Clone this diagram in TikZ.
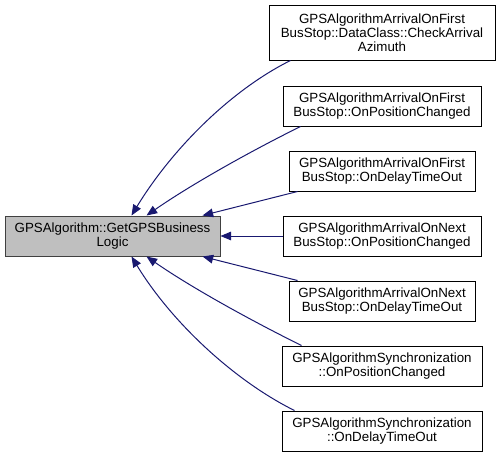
\documentclass[tikz,border=0pt]{standalone}
\usepackage{fontspec}
\setmainfont{Liberation Sans}
\usetikzlibrary{arrows.meta,calc}
\definecolor{edgeblue}{HTML}{191970}
\definecolor{boxgray}{HTML}{BFBFBF}
\definecolor{boxborder}{HTML}{404040}
\begin{document}
\begin{tikzpicture}[x=0.75pt,y=-0.75pt,
  box/.style={draw=black, line width=0.75pt, fill=white, inner sep=0pt, align=center,
    font=\fontsize{10}{10.5}\selectfont, minimum height=30pt},
  mainbox/.style={box, fill=boxgray, draw=boxborder},
  link/.style={draw=edgeblue, line width=0.75pt, -{Triangle[length=8pt,width=6.5pt,fill=edgeblue]}}]
\useasboundingbox (0,0) rectangle (500,458);
\node[mainbox, minimum width=161.25pt] (main) at (112.5,236) {GPSAlgorithm::GetGPSBusiness\\Logic};
\node[box, minimum width=169.5pt, minimum height=41.25pt] (b1) at (382,32.5) {GPSAlgorithmArrivalOnFirst\\BusStop::DataClass::CheckArrival\\Azimuth};
\node[box, minimum width=148.5pt] (b2) at (382,106) {GPSAlgorithmArrivalOnFirst\\BusStop::OnPositionChanged};
\node[box, minimum width=139.5pt] (b3) at (382,171) {GPSAlgorithmArrivalOnFirst\\BusStop::OnDelayTimeOut};
\node[box, minimum width=148.5pt] (b4) at (382,236) {GPSAlgorithmArrivalOnNext\\BusStop::OnPositionChanged};
\node[box, minimum width=139.5pt] (b5) at (382,301) {GPSAlgorithmArrivalOnNext\\BusStop::OnDelayTimeOut};
\node[box, minimum width=150pt] (b6) at (382,366) {GPSAlgorithmSynchronization\\::OnPositionChanged};
\node[box, minimum width=150pt] (b7) at (382,431) {GPSAlgorithmSynchronization\\::OnDelayTimeOut};

\draw[link] ($(b1.south west)+(22,0)$) .. controls (231,90) and (172,149) .. ($(main.north west)+(127,0)$);
\draw[link] ($(b2.south west)+(18,0)$) .. controls (251,151) and (192,184) .. ($(main.north west)+(142,0)$);
\draw[link] ($(b3.south west)+(9,0)$) -- ($(main.north west)+(198,0)$);
\draw[link] (b4.west) -- (main.east);
\draw[link] ($(b5.north west)+(9,0)$) -- ($(main.south west)+(198,0)$);
\draw[link] ($(b6.north west)+(20,0)$) .. controls (252,321) and (192,288) .. ($(main.south west)+(142,0)$);
\draw[link] ($(b7.north west)+(13,0)$) .. controls (235,381) and (172,323) .. ($(main.south west)+(127,0)$);
\end{tikzpicture}
\end{document}
